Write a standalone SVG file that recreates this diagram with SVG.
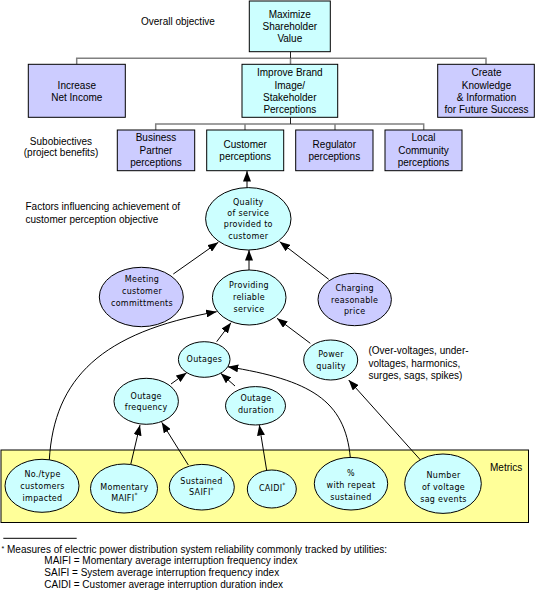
<svg xmlns="http://www.w3.org/2000/svg" width="535" height="592" viewBox="0 0 535 592">
<defs>
<marker id="ah" markerUnits="userSpaceOnUse" markerWidth="11" markerHeight="8" refX="10.5" refY="4" orient="auto">
<path d="M0,0 L10.5,4 L0,8 z" fill="#000"/>
</marker>
<style>
.bx{stroke:#000;stroke-width:1}
.cy{fill:#CCFFFF}
.pu{fill:#CCCCFF}
.el{stroke:#000;stroke-width:1}
.t{font-family:"Liberation Sans",Arial,sans-serif;font-size:10px;fill:#000}
.tm{text-anchor:middle}
.e{font-family:"DejaVu Sans",Verdana,sans-serif;font-size:8px;letter-spacing:0.3px;text-anchor:middle;fill:#000}
.tree{stroke:#808080;stroke-width:1.5;fill:none}
.stub{stroke:#222;stroke-width:1;fill:none}
.c{stroke:#000;stroke-width:1;fill:none;marker-end:url(#ah)}
.sup{font-size:6px}
</style>
</defs>
<rect width="535" height="592" fill="#fff"/>

<g id="labels">
<text class="t" x="141" y="25">Overall objective</text>
<text class="t tm" x="61" y="145">Subobiectives</text>
<text class="t tm" x="61" y="156">(project benefits)</text>
<text class="t" x="25.5" y="210">Factors influencing achievement of</text>
<text class="t" x="25.5" y="223">customer perception objective</text>
<text class="t" x="368.5" y="354">(Over-voltages, under-</text>
<text class="t" x="368.5" y="366.5">voltages, harmonics,</text>
<text class="t" x="368.5" y="379">surges, sags, spikes)</text>
</g>

<g id="metrics">
<rect x="1" y="450" width="527.5" height="72.5" fill="#FFFF99" stroke="#000" stroke-width="1"/>
<text class="t" x="490" y="471">Metrics</text>
</g>

<g id="connectors">
<path class="tree" d="M76.7,64.3 V58.3 H486 V64.3 M290.5,58.3 V64.3"/>
<path class="stub" d="M290.5,51.7 V58.3"/>
<path class="tree" d="M155.7,130 V124 H423.7 V130 M245,124 V130 M335,124 V130"/>
<path class="stub" d="M290.5,117.3 V124"/>
<line class="c" x1="247" y1="188" x2="247" y2="171"/>
<line class="c" x1="173.3" y1="274" x2="218.3" y2="242.3"/>
<line class="c" x1="249" y1="270" x2="249" y2="250"/>
<line class="c" x1="328.7" y1="279.3" x2="279.7" y2="241.7"/>
<line class="c" x1="216.7" y1="341.7" x2="231" y2="322.7"/>
<line class="c" x1="310.3" y1="343.3" x2="277" y2="318.3"/>
<path class="c" d="M49.3,460 C54,378 102,332 216.7,311.7"/>
<line class="c" x1="171" y1="384" x2="186.7" y2="372.7"/>
<line class="c" x1="235" y1="386" x2="220.7" y2="373.3"/>
<path class="c" d="M350.3,457.5 C345,400 310,380 227.7,366.7"/>
<line class="c" x1="422" y1="461.7" x2="348.7" y2="380"/>
<line class="c" x1="130.7" y1="464.5" x2="140" y2="425"/>
<line class="c" x1="188.3" y1="465" x2="161.7" y2="422.3"/>
<line class="c" x1="266.7" y1="470.5" x2="259.3" y2="425"/>
</g>

<g id="n-maximize">
<rect class="bx cy" x="249.3" y="1" width="81" height="50.7"/>
<text class="t tm" x="289.8" y="18">Maximize</text>
<text class="t tm" x="289.8" y="30">Shareholder</text>
<text class="t tm" x="289.8" y="42.2">Value</text>
</g>
<g id="n-income">
<rect class="bx pu" x="28.3" y="64.3" width="97" height="53"/>
<text class="t tm" x="76.8" y="88.5">Increase</text>
<text class="t tm" x="76.8" y="101">Net Income</text>
</g>
<g id="n-brand">
<rect class="bx cy" x="242" y="64.3" width="95.7" height="53"/>
<text class="t tm" x="289.8" y="76.2">Improve Brand</text>
<text class="t tm" x="289.8" y="88.5">Image/</text>
<text class="t tm" x="289.8" y="100.8">Stakeholder</text>
<text class="t tm" x="289.8" y="113">Perceptions</text>
</g>
<g id="n-knowledge">
<rect class="bx pu" x="437.7" y="64.3" width="96.6" height="53"/>
<text class="t tm" x="486.5" y="76.2">Create</text>
<text class="t tm" x="486.5" y="88.5">Knowledge</text>
<text class="t tm" x="486.5" y="100.8">&amp; Information</text>
<text class="t tm" x="486.5" y="113">for Future Success</text>
</g>
<g id="n-business">
<rect class="bx pu" x="117.3" y="130" width="77.4" height="40.7"/>
<text class="t tm" x="156" y="141">Business</text>
<text class="t tm" x="156" y="154">Partner</text>
<text class="t tm" x="156" y="166">perceptions</text>
</g>
<g id="n-customer">
<rect class="bx cy" x="206.7" y="130" width="77" height="40.7"/>
<text class="t tm" x="245.2" y="148">Customer</text>
<text class="t tm" x="245.2" y="160">perceptions</text>
</g>
<g id="n-regulator">
<rect class="bx pu" x="295.7" y="130" width="77.3" height="40.7"/>
<text class="t tm" x="334.3" y="148">Regulator</text>
<text class="t tm" x="334.3" y="160">perceptions</text>
</g>
<g id="n-local">
<rect class="bx pu" x="385" y="130" width="77" height="40.7"/>
<text class="t tm" x="423.5" y="141">Local</text>
<text class="t tm" x="423.5" y="154">Community</text>
<text class="t tm" x="423.5" y="166">perceptions</text>
</g>

<g id="n-quality">
<ellipse class="el cy" cx="248.3" cy="218.8" rx="42.7" ry="31.2"/>
<text class="e" x="248.3" y="204.7">Quality</text>
<text class="e" x="248.3" y="216.3">of service</text>
<text class="e" x="248.3" y="227.3">provided to</text>
<text class="e" x="248.3" y="238.7">customer</text>
</g>
<g id="n-meeting">
<ellipse class="el pu" cx="141.3" cy="297" rx="42" ry="29.7"/>
<text class="e" x="142" y="282">Meeting</text>
<text class="e" x="142" y="294">customer</text>
<text class="e" x="142" y="305.7">committments</text>
</g>
<g id="n-providing">
<ellipse class="el cy" cx="249.2" cy="297.5" rx="36.8" ry="27.5"/>
<text class="e" x="249" y="288">Providing</text>
<text class="e" x="249" y="300.3">reliable</text>
<text class="e" x="249" y="312">service</text>
</g>
<g id="n-charging">
<ellipse class="el pu" cx="354.7" cy="299.5" rx="36.7" ry="26.2"/>
<text class="e" x="354.7" y="291.3">Charging</text>
<text class="e" x="354.7" y="303">reasonable</text>
<text class="e" x="354.7" y="314">price</text>
</g>
<g id="n-outages">
<ellipse class="el cy" cx="204.2" cy="359.5" rx="25.8" ry="17.8"/>
<text class="e" x="204.4" y="362.3">Outages</text>
</g>
<g id="n-power">
<ellipse class="el cy" cx="330.7" cy="360" rx="27" ry="20"/>
<text class="e" x="331" y="357.3">Power</text>
<text class="e" x="331" y="369">quality</text>
</g>
<g id="n-freq">
<ellipse class="el cy" cx="146.2" cy="401.3" rx="32.2" ry="23"/>
<text class="e" x="146.2" y="398.7">Outage</text>
<text class="e" x="146.2" y="410.3">frequency</text>
</g>
<g id="n-duration">
<ellipse class="el cy" cx="255.5" cy="405.8" rx="30" ry="19.2"/>
<text class="e" x="256" y="401.3">Outage</text>
<text class="e" x="256" y="413">duration</text>
</g>
<g id="n-notype">
<ellipse class="el cy" cx="42" cy="485.8" rx="37" ry="26.5"/>
<text class="e" x="42.5" y="477">No./type</text>
<text class="e" x="42.5" y="489">customers</text>
<text class="e" x="42.5" y="500.7">impacted</text>
</g>
<g id="n-maifi">
<ellipse class="el cy" cx="124" cy="488.5" rx="33.5" ry="24.5"/>
<text class="e" x="124.5" y="489.7">Momentary</text>
<text class="e" x="124.5" y="500.7">MAIFI<tspan class="sup" dy="-3.5">*</tspan></text>
</g>
<g id="n-saifi">
<ellipse class="el cy" cx="201.8" cy="487.2" rx="32.5" ry="22.8"/>
<text class="e" x="201.5" y="484">Sustained</text>
<text class="e" x="201.5" y="495.3">SAIFI<tspan class="sup" dy="-3.5">*</tspan></text>
</g>
<g id="n-caidi">
<ellipse class="el cy" cx="271.8" cy="489" rx="24.5" ry="19"/>
<text class="e" x="272.3" y="490.7">CAIDI<tspan class="sup" dy="-3.5">*</tspan></text>
</g>
<g id="n-repeat">
<ellipse class="el cy" cx="351" cy="483.7" rx="36.7" ry="26.3"/>
<text class="e" x="351" y="475.7">%</text>
<text class="e" x="351" y="488">with repeat</text>
<text class="e" x="351" y="499.7">sustained</text>
</g>
<g id="n-sag">
<ellipse class="el cy" cx="443" cy="483.7" rx="38.3" ry="29.7"/>
<text class="e" x="443.5" y="478">Number</text>
<text class="e" x="443.5" y="490">of voltage</text>
<text class="e" x="443.5" y="501.7">sag events</text>
</g>

<g id="footnote">
<line x1="3.3" y1="538.3" x2="76.7" y2="538.3" stroke="#000" stroke-width="1"/>
<text class="t" x="1.5" y="552.5"><tspan font-size="7" dy="-2">*</tspan><tspan dy="2"> Measures of electric power distribution system reliability commonly tracked by utilities:</tspan></text>
<text class="t" x="44.3" y="564">MAIFI = Momentary average interruption frequency index</text>
<text class="t" x="44.3" y="575.8">SAIFI = System average interruption frequency index</text>
<text class="t" x="44.3" y="587.8">CAIDI = Customer average interruption duration index</text>
</g>
</svg>
